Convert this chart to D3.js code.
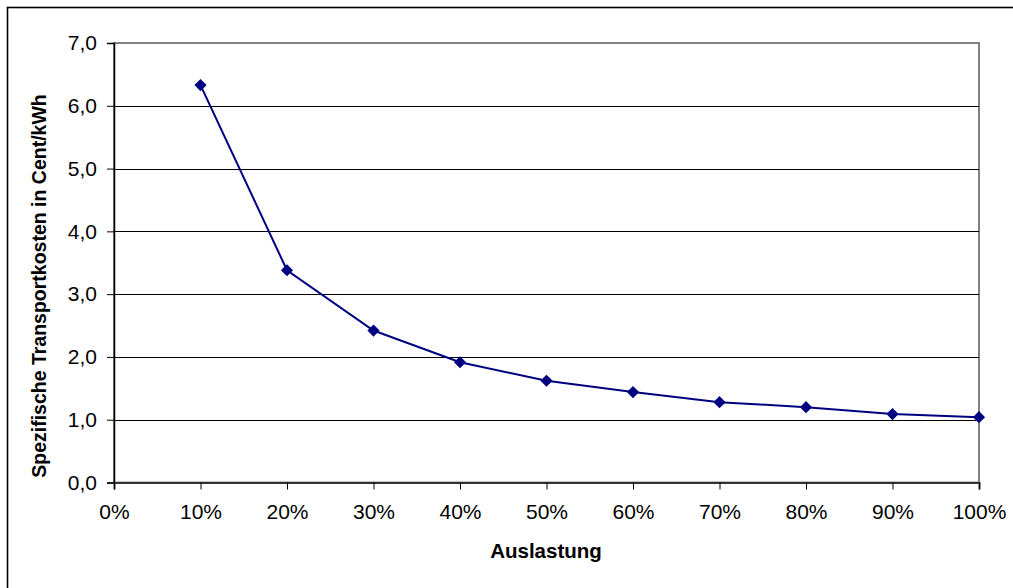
<!DOCTYPE html>
<html>
<head>
<meta charset="utf-8">
<script src="https://cdn.jsdelivr.net/npm/d3@7"></script>
<style>
  html, body { margin: 0; padding: 0; background: #fff; }
  svg { display: block; font-family: "Liberation Sans", Arial, sans-serif; }
</style>
</head>
<body>
<svg id="chart" width="1013" height="588"></svg>
<script>
// Auslastung in Prozent
const auslastung = [10, 20, 30, 40, 50, 60, 70, 80, 90, 100];
// Spezifische Transportkosten in Cent/kWh
const kosten = [6.33, 3.38, 2.42, 1.915, 1.62, 1.44, 1.28, 1.20, 1.09, 1.04];
// Achsenbeschriftungen
const xTicks = [0, 10, 20, 30, 40, 50, 60, 70, 80, 90, 100];
const yTicks = [0, 1, 2, 3, 4, 5, 6, 7];
const xTitle = "Auslastung";
const yTitle = "Spezifische Transportkosten in Cent/kWh";

const svg = d3.select("#chart");
const plot = { left: 114, right: 979, top: 43, bottom: 482.5 };

const de = d3.formatLocale({ decimal: ",", thousands: ".", grouping: [3], currency: ["", " €"] });
const fmtY = de.format(".1f");

const x = d3.scaleLinear().domain([0, 100]).range([plot.left, plot.right]);
const y = d3.scaleLinear().domain([0, 7]).range([plot.bottom, plot.top]);

// Rahmen um das Diagramm
svg.append("rect")
  .attr("x", 7.5).attr("y", 7.5)
  .attr("width", 1030).attr("height", 600)
  .attr("fill", "none").attr("stroke", "#000").attr("stroke-width", 1.6);

// Rahmen der Zeichenfläche
svg.append("rect")
  .attr("x", plot.left).attr("y", plot.top)
  .attr("width", plot.right - plot.left).attr("height", plot.bottom - plot.top)
  .attr("fill", "none").attr("stroke", "#808080").attr("stroke-width", 2);

// Hauptgitternetzlinien
svg.append("g")
  .selectAll("line")
  .data(yTicks.filter(d => d > 0 && d < 7))
  .join("line")
  .attr("x1", plot.left).attr("x2", plot.right)
  .attr("y1", d => Math.round(y(d)) + 0.5).attr("y2", d => Math.round(y(d)) + 0.5)
  .attr("stroke", "#000").attr("stroke-width", 1);

// Y-Achse
const yAxis = svg.append("g")
  .attr("transform", `translate(${plot.left},0)`)
  .call(d3.axisLeft(y).tickValues(yTicks).tickFormat(fmtY).tickSize(7).tickPadding(10));
yAxis.select(".domain").attr("stroke", "#000").attr("stroke-width", 1.5);
yAxis.selectAll(".tick line").attr("stroke", "#000");
yAxis.selectAll("text")
  .attr("font-size", 21).attr("fill", "#000")
  .attr("font-family", "Liberation Sans, Arial, sans-serif");

// X-Achse
const xAxis = svg.append("g")
  .attr("transform", `translate(0,${plot.bottom})`)
  .call(d3.axisBottom(x).tickValues(xTicks).tickFormat(d => d + "%").tickSize(7).tickPadding(15));
xAxis.select(".domain").attr("stroke", "#333").attr("stroke-width", 2);
xAxis.selectAll(".tick line").attr("stroke", "#000");
xAxis.selectAll("text")
  .attr("font-size", 21).attr("fill", "#000")
  .attr("font-family", "Liberation Sans, Arial, sans-serif");

// Datenreihe
const pts = auslastung.map((a, i) => [a, kosten[i]]);
svg.append("path")
  .datum(pts)
  .attr("fill", "none")
  .attr("stroke", "#000080")
  .attr("stroke-width", 2)
  .attr("d", d3.line().x(d => x(d[0])).y(d => y(d[1])));

svg.append("g")
  .selectAll("path")
  .data(pts)
  .join("path")
  .attr("transform", d => `translate(${x(d[0])},${y(d[1])}) rotate(45)`)
  .attr("d", "M-4.3,-4.3H4.3V4.3H-4.3Z")
  .attr("fill", "#000080");

// Achsentitel
svg.append("text")
  .attr("x", (plot.left + plot.right) / 2 - 0.5)
  .attr("y", 558)
  .attr("text-anchor", "middle")
  .attr("font-size", 20.5).attr("font-weight", "bold")
  .text(xTitle);

svg.append("text")
  .attr("transform", "translate(46,286) rotate(-90)")
  .attr("text-anchor", "middle")
  .attr("font-size", 19.5).attr("font-weight", "bold")
  .text(yTitle);
</script>
</body>
</html>
